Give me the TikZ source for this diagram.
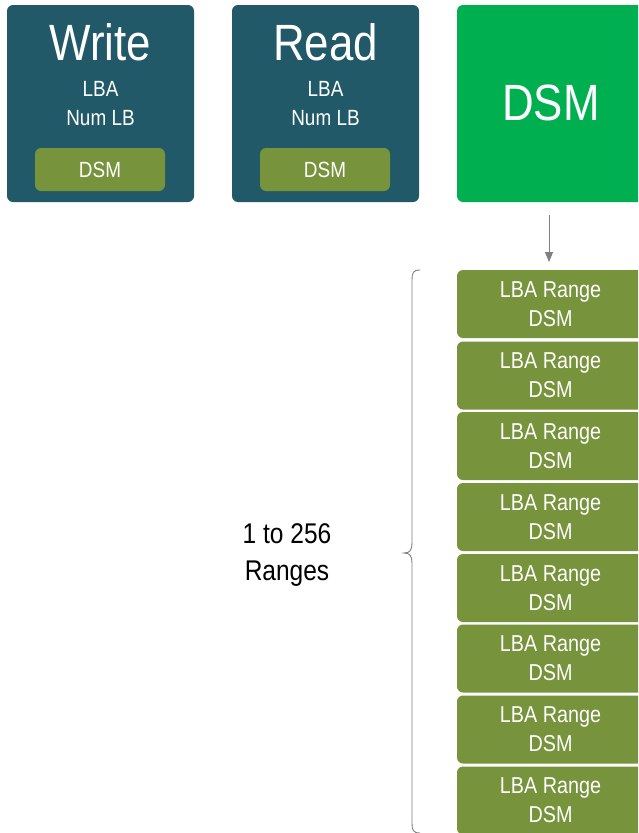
\documentclass[tikz,border=0pt]{standalone}
\usepackage{fontspec}
\setmainfont{Liberation Sans}[FakeStretch=0.86]
\usetikzlibrary{arrows.meta}
\definecolor{teal}{HTML}{215968}
\definecolor{olive}{HTML}{77933C}
\definecolor{brgreen}{HTML}{00B050}
\definecolor{arrgray}{HTML}{7F7F7F}
\begin{document}
\begin{tikzpicture}[x=1pt,y=-1pt,
  cmdbox/.style={fill=teal, rounded corners=6pt, minimum width=187pt, minimum height=197pt, inner sep=0pt},
  pill/.style={fill=olive, rounded corners=6pt, minimum width=130pt, minimum height=43pt, inner sep=0pt, text=white, font=\fontsize{22}{24}\selectfont},
  rangebox/.style={fill=olive, rounded corners=6pt, minimum width=187pt, minimum height=68pt, inner sep=0pt, text=white, align=center, font=\fontsize{23}{29}\selectfont},
  bigtxt/.style={text=white, inner sep=0pt, font=\fontsize{51}{52}\selectfont},
  smalltxt/.style={text=white, inner sep=0pt, align=center, font=\fontsize{22}{29}\selectfont}]
\clip (0,0) rectangle (638,833);
\fill[white] (0,0) rectangle (638,833);
% Write
\node[cmdbox] (write) at (100.5,103.5) {};
\node[bigtxt] (writet) at (100.5,42) {Write};
\node[smalltxt] (writep) at (100.5,103.5) {LBA\\Num LB};
\node[pill] (writedsm) at (100,169.5) {DSM};
% Read
\node[cmdbox] (read) at (325.5,103.5) {};
\node[bigtxt] (readt) at (325.5,42) {Read};
\node[smalltxt] (readp) at (325.5,103.5) {LBA\\Num LB};
\node[pill] (readdsm) at (325,169.5) {DSM};
% DSM
\node[fill=brgreen, rounded corners=6pt, minimum width=188pt, minimum height=197pt, inner sep=0pt] (dsm) at (551,103.5) {};
\node[bigtxt] (dsmt) at (551,103) {DSM};
% Ranges
\foreach \i/\y in {1/304, 2/375.5, 3/446, 4/517, 5/588, 6/658.5, 7/729.5, 8/800.5} {
  \node[rangebox] (r\i) at (550.5,\y) {LBA Range\\DSM};
}
\coordinate (atop) at (549,215);
\draw[arrgray, line width=1pt, -{Triangle[length=10pt,width=8pt]}] (atop) -- (549,262);
% brace
\draw[arrgray, line width=0.9pt] (420,270) .. controls (413,270) and (412,273) .. (412,280)
  -- (412,543) .. controls (412,550) and (410,553) .. (404,553)
  .. controls (410,553) and (412,556) .. (412,563)
  -- (412,823) .. controls (412,830) and (413,833) .. (420,833);
\node[inner sep=0pt, align=center, font=\fontsize{28.5}{37}\selectfont] (lbl) at (287,555) {1 to 256\\Ranges};
\end{tikzpicture}
\end{document}
